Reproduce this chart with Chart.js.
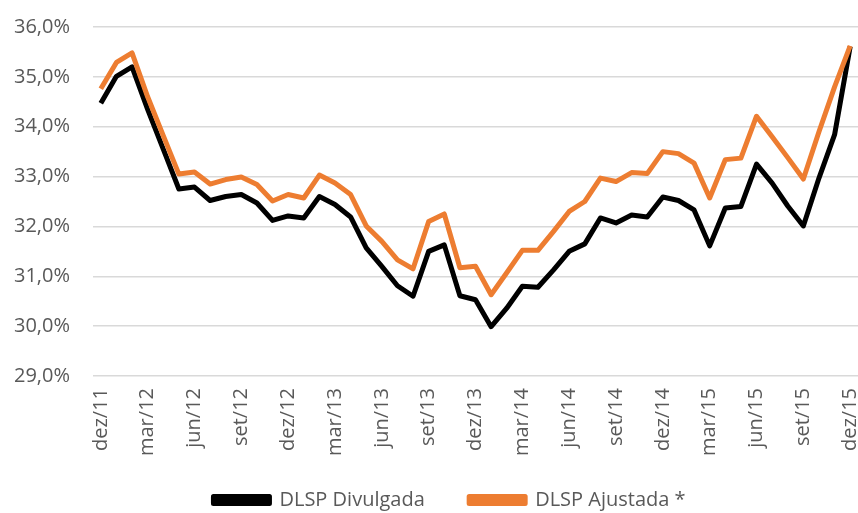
<!DOCTYPE html>
<html>
<head>
<meta charset="utf-8">
<script src="https://cdn.jsdelivr.net/npm/chart.js@4.4.1/dist/chart.umd.min.js"></script>
<style>
  html, body { margin: 0; padding: 0; background: #ffffff; }
  #wrap { width: 858px; height: 513px; position: relative; }
</style>
</head>
<body>
<div id="wrap"><canvas id="grafico-dlsp"></canvas></div>
<script>
// meses (dez/11 a dez/15)
const meses = [
  'dez/11',
  'jan/12', 'fev/12', 'mar/12', 'abr/12', 'mai/12', 'jun/12', 'jul/12', 'ago/12', 'set/12', 'out/12', 'nov/12', 'dez/12',
  'jan/13', 'fev/13', 'mar/13', 'abr/13', 'mai/13', 'jun/13', 'jul/13', 'ago/13', 'set/13', 'out/13', 'nov/13', 'dez/13',
  'jan/14', 'fev/14', 'mar/14', 'abr/14', 'mai/14', 'jun/14', 'jul/14', 'ago/14', 'set/14', 'out/14', 'nov/14', 'dez/14',
  'jan/15', 'fev/15', 'mar/15', 'abr/15', 'mai/15', 'jun/15', 'jul/15', 'ago/15', 'set/15', 'out/15', 'nov/15', 'dez/15'
];

// DLSP em % do PIB
const dlspDivulgada = [
  34.47,
  35.01, 35.20, 34.35, 33.55, 32.75, 32.79, 32.52, 32.60, 32.64, 32.47, 32.12, 32.21,
  32.17, 32.60, 32.44, 32.19, 31.57, 31.20, 30.81, 30.60, 31.50, 31.63, 30.61, 30.53,
  29.99, 30.36, 30.80, 30.78, 31.13, 31.50, 31.65, 32.17, 32.07, 32.23, 32.19, 32.59,
  32.52, 32.33, 31.61, 32.37, 32.40, 33.25, 32.87, 32.41, 32.01, 32.97, 33.84, 35.61
];

const dlspAjustada = [
  34.76,
  35.29, 35.48, 34.60, 33.82, 33.05, 33.09, 32.85, 32.94, 32.99, 32.84, 32.51, 32.64,
  32.57, 33.03, 32.87, 32.64, 32.01, 31.70, 31.33, 31.15, 32.10, 32.25, 31.17, 31.20,
  30.63, 31.07, 31.52, 31.52, 31.90, 32.30, 32.50, 32.97, 32.90, 33.08, 33.06, 33.50,
  33.46, 33.27, 32.57, 33.34, 33.37, 34.21, 33.80, 33.38, 32.95, 33.90, 34.80, 35.62
];

const corTexto = '#595959';
const fonte = "'Open Sans', sans-serif";

const grafico = new Chart(document.getElementById('grafico-dlsp'), {
  type: 'line',
  data: {
    labels: meses,
    datasets: [
      {
        label: 'DLSP Divulgada',
        data: dlspDivulgada,
        borderColor: '#000000',
        backgroundColor: '#000000',
        borderWidth: 5,
        pointRadius: 0,
        tension: 0,
        borderJoinStyle: 'round',
        order: 1
      },
      {
        label: 'DLSP Ajustada *',
        data: dlspAjustada,
        borderColor: '#ED7D31',
        backgroundColor: '#ED7D31',
        borderWidth: 5,
        pointRadius: 0,
        tension: 0,
        borderJoinStyle: 'round',
        order: 0 // laranja por cima
      }
    ]
  },
  options: {
    responsive: true,
    maintainAspectRatio: false,
    animation: false,
    layout: { padding: { left: 0, right: 0, top: 27, bottom: 0 } },
    scales: {
      x: {
        offset: true,
        grid: { display: false, drawTicks: false },
        border: { display: false },
        afterFit: function (escala) {
          escala.paddingRight = 0;
          escala.paddingLeft = 0;
          escala.height = 80;
        },
        ticks: {
          color: corTexto,
          font: { family: fonte, size: 20 },
          autoSkip: false,
          minRotation: 90,
          maxRotation: 90,
          padding: 12,
          callback: function (valor, indice) {
            return indice % 3 === 0 ? meses[indice] : '';
          }
        }
      },
      y: {
        min: 29,
        max: 36,
        grid: { color: '#d9d9d9', lineWidth: 1.5, drawTicks: false },
        border: { display: false },
        afterFit: function (escala) {
          escala.paddingTop = 0;
          escala.paddingBottom = 0;
          escala.width = 93;
        },
        ticks: {
          stepSize: 1,
          color: corTexto,
          font: { family: fonte, size: 20 },
          padding: 23,
          callback: function (valor) {
            return valor.toFixed(1).replace('.', ',') + '%';
          }
        }
      }
    },
    plugins: {
      tooltip: { enabled: false },
      legend: {
        position: 'bottom',
        fullSize: false,
        maxHeight: 57,
        labels: {
          color: corTexto,
          font: { family: fonte, size: 20 },
          boxWidth: 56,
          boxHeight: 7,
          padding: 34,
          sort: function (a, b) { return a.datasetIndex - b.datasetIndex; },
          generateLabels: function (chart) {
            const itens = Chart.defaults.plugins.legend.labels.generateLabels(chart);
            // espaçamento da legenda como no original
            itens.forEach(function (item) {
              if (item.datasetIndex === 0) item.text += '  ';
              if (item.datasetIndex === 1) item.text += '          ';
            });
            return itens;
          }
        }
      }
    }
  }
});
</script>
</body>
</html>
